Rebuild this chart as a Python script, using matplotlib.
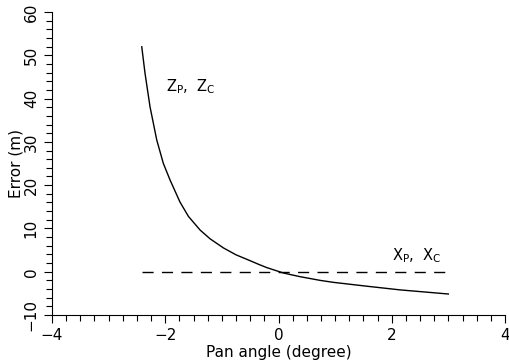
import matplotlib
matplotlib.use("Agg")
import matplotlib.pyplot as plt
from matplotlib.ticker import MultipleLocator

# error of Z_P, Z_C against pan angle
pan_angle = [-2.415, -2.357, -2.269, -2.150, -2.034, -1.915, -1.74, -1.592, -1.385, -1.208,
             -0.973, -0.75, -0.502, -0.35, -0.207, 0.087, 0.382, 0.735, 0.965, 1.56, 2.148, 3.0]
error_z = [51.96, 45.82, 38.11, 30.42, 25.03, 21.18, 16.1, 12.8, 9.63, 7.6,
           5.5, 3.9, 2.55, 1.7, 0.95, -0.3, -1.15, -2.0, -2.45, -3.35, -4.2, -5.15]

# X_P, X_C error stays at zero over the same range
pan_range_x = [-2.415, 3.0]
error_x = [0.0, 0.0]

plt.rcParams['font.family'] = 'DejaVu Sans'

fig = plt.figure(figsize=(5.09, 3.64), dpi=100)
ax = fig.add_axes([52/509, 1-315/364, (505-52)/509, (315-12)/364])

ax.plot(pan_angle, error_z, color='black', linewidth=1.0)
ax.plot(pan_range_x, error_x, color='black', linewidth=1.0, dashes=(8, 6))

ax.text(-1.99, 42.7, r'Z$_\mathregular{P}$,  Z$_\mathregular{C}$', fontsize=10.5, va='center')
ax.text(2.0, 3.6, r'X$_\mathregular{P}$,  X$_\mathregular{C}$', fontsize=10.5, va='center')

ax.set_xlim(-4, 4)
ax.set_ylim(-10, 60)
ax.xaxis.set_major_locator(MultipleLocator(2))
ax.xaxis.set_minor_locator(MultipleLocator(0.25))
ax.yaxis.set_major_locator(MultipleLocator(10))
ax.yaxis.set_minor_locator(MultipleLocator(2))
ax.tick_params(which='major', direction='out', length=6, width=0.8, labelsize=11)
ax.tick_params(which='minor', direction='out', length=4, width=0.8)
for lbl in ax.get_yticklabels():
    lbl.set_rotation(90)
    lbl.set_va('center')

ax.spines['top'].set_visible(False)
ax.spines['right'].set_visible(False)
ax.set_xlabel('Pan angle (degree)', fontsize=11, labelpad=1)
ax.set_ylabel('Error (m)', fontsize=11, labelpad=0)

fig.savefig('out.png', dpi=100)
